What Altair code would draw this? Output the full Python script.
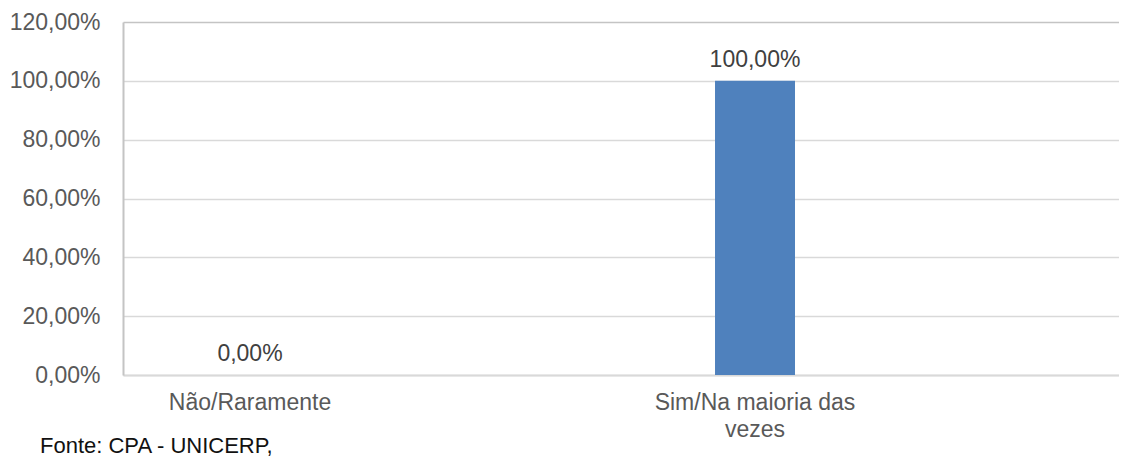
import altair as alt
import pandas as pd

categories = ["Não/Raramente", "Sim/Na maioria das vezes"]
values = [0.0, 1.0]
value_labels = ["0,00%", "100,00%"]
y_ticks = [0, 0.2, 0.4, 0.6, 0.8, 1.0, 1.2]
source_lines = ["Fonte: CPA - UNICERP,", "03/2021"]

df = pd.DataFrame({"cat": categories, "val": values, "lbl": value_labels})

FONT = "Liberation Sans"
AXIS_TXT = "#595959"
LABEL_TXT = "#404040"

x = alt.X(
    "cat:N", sort=categories, title=None,
    scale=alt.Scale(paddingInner=0.8416, paddingOuter=0.40693, align=0.2117),
    axis=alt.Axis(
        labelAngle=0, labelFontSize=23, labelColor=AXIS_TXT, labelFont=FONT,
        ticks=False, domainColor="#d9d9d9", domainWidth=2, labelPadding=16,
        labelLineHeight=27, labelLimit=0, labelOverlap=False,
        labelExpr="datum.label == 'Sim/Na maioria das vezes' ? ['Sim/Na maioria das', 'vezes'] : datum.label",
    ),
)
y = alt.Y(
    "val:Q", title=None,
    scale=alt.Scale(domain=[0, 1.2], nice=False),
    axis=alt.Axis(
        values=y_ticks, labelFontSize=23, labelColor=AXIS_TXT, labelFont=FONT,
        ticks=False, labelPadding=23, domainColor="#c4c4c4", domainWidth=2,
        gridColor=alt.condition("datum.value >= 1.19", alt.value("#c4c4c4"), alt.value("#d9d9d9")),
        gridWidth=1.5,
        labelExpr="replace(format(datum.value, '.2%'), '.', ',')",
    ),
)

bars = alt.Chart(df).mark_bar(color="#4f81bd").encode(x=x, y=y)
texts = alt.Chart(df).mark_text(
    dy=-14, baseline="alphabetic", fontSize=23, font=FONT, color=LABEL_TXT
).encode(x=alt.X("cat:N", sort=categories), y="val:Q", text="lbl:N")

caption = alt.Chart(alt.Data(values=[{}])).mark_text(
    text=source_lines, align="left", baseline="alphabetic", fontSize=22,
    font=FONT, color="#111111", lineHeight=26,
).encode(x=alt.value(-83), y=alt.value(431))

chart = alt.layer(bars, texts, caption).properties(
    width=996, height=353,
    autosize=alt.AutoSizeParams(type="none"),
    padding={"left": 115, "top": 14, "right": 0, "bottom": 86},
).configure_view(stroke=None)

chart.save("out.html", embed_options={"renderer": "svg", "actions": False})
